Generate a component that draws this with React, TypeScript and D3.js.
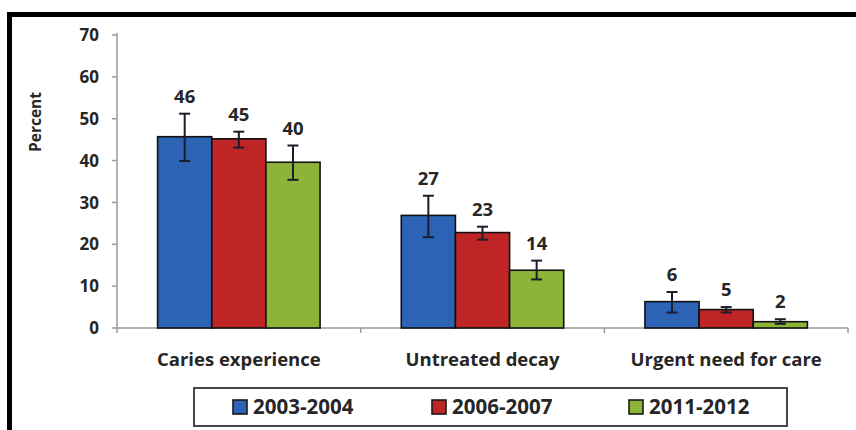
import React from "react";
import * as d3 from "d3";

const categories = ["Caries experience", "Untreated decay", "Urgent need for care"];
const seriesNames = ["2003-2004", "2006-2007", "2011-2012"];
const seriesColors = ["#2c63b5", "#bf2526", "#8bb439"];
const values2003 = [45.7, 26.9, 6.3];
const values2006 = [45.2, 22.8, 4.4];
const values2011 = [39.6, 13.8, 1.5];
const errLow2003 = [39.9, 21.7, 3.7];
const errHigh2003 = [51.2, 31.6, 8.6];
const errLow2006 = [43.1, 21.1, 3.7];
const errHigh2006 = [46.9, 24.2, 5.0];
const errLow2011 = [35.4, 11.6, 1.0];
const errHigh2011 = [43.6, 16.1, 2.1];
const labels2003 = ["46", "27", "6"];
const labels2006 = ["45", "23", "5"];
const labels2011 = ["40", "14", "2"];
const yTicks = [0, 10, 20, 30, 40, 50, 60, 70];

const seriesValues = [values2003, values2006, values2011];
const seriesLow = [errLow2003, errLow2006, errLow2011];
const seriesHigh = [errHigh2003, errHigh2006, errHigh2011];
const seriesLabels = [labels2003, labels2006, labels2011];

const W = 856;
const H = 430;
const FONT = "'Open Sans', sans-serif";
const TEXT = "#262626";

export default function App() {
  const y = d3.scaleLinear().domain([0, 70]).range([328, 35]);
  const x0 = d3.scaleBand<string>().domain(categories).range([117, 848]).padding(0);
  const x1 = d3
    .scaleBand<string>()
    .domain(seriesNames)
    .range([0, x0.bandwidth()])
    .paddingInner(0)
    .paddingOuter(0.75);
  const bw = x1.bandwidth();
  const capW = 11;

  const legendX = 194;
  const legendY = 388;
  const legendW = 593;
  const legendH = 38;
  const legendItemX = [233, 432, 629];

  return (
    <svg
      width={W}
      height={H}
      style={{ position: "absolute", left: 0, top: 0, background: "#fff" }}
      fontFamily={FONT}
    >
      <rect x={0} y={0} width={W} height={H} fill="#fff" />
      {/* frame */}
      <path d={`M9.5,${H} V14.5 H${W}`} fill="none" stroke="#000" strokeWidth={5} />

      {/* y axis */}
      <line x1={117} x2={117} y1={y(70) - 2} y2={333} stroke="#9a9a9a" strokeWidth={1.5} />
      {yTicks.map((t) => (
        <g key={t}>
          <line x1={112} x2={117} y1={y(t)} y2={y(t)} stroke="#9a9a9a" strokeWidth={1.5} />
          <text
            x={99}
            y={y(t)}
            dy="0.36em"
            textAnchor="end"
            fontSize={17}
            fontWeight={700}
            fill={TEXT}
          >
            {t}
          </text>
        </g>
      ))}
      <text
        transform={`translate(41,122) rotate(-90)`}
        textAnchor="middle"
        fontSize={15.5}
        fontWeight={700}
        fill={TEXT}
      >
        Percent
      </text>

      {/* x axis */}
      <line x1={117} x2={848} y1={y(0)} y2={y(0)} stroke="#9a9a9a" strokeWidth={1.5} />
      {categories.map((c) => (
        <line
          key={"t" + c}
          x1={(x0(c) as number) + x0.bandwidth()}
          x2={(x0(c) as number) + x0.bandwidth()}
          y1={y(0)}
          y2={y(0) + 5}
          stroke="#9a9a9a"
          strokeWidth={1.5}
        />
      ))}
      {categories.map((c) => (
        <text
          key={"l" + c}
          x={(x0(c) as number) + x0.bandwidth() / 2}
          y={366}
          textAnchor="middle"
          fontSize={18.5}
          fontWeight={700}
          fill={TEXT}
        >
          {c}
        </text>
      ))}

      {/* bars */}
      {seriesNames.map((s, si) =>
        categories.map((c, ci) => {
          const bx = (x0(c) as number) + (x1(s) as number);
          const v = seriesValues[si][ci];
          return (
            <rect
              key={s + c}
              x={bx}
              y={y(v)}
              width={bw}
              height={y(0) - y(v)}
              fill={seriesColors[si]}
              stroke="#111"
              strokeWidth={1.6}
            />
          );
        })
      )}

      {/* error bars and labels */}
      {seriesNames.map((s, si) =>
        categories.map((c, ci) => {
          const cx = (x0(c) as number) + (x1(s) as number) + bw / 2;
          const lo = y(seriesLow[si][ci]);
          const hi = y(seriesHigh[si][ci]);
          return (
            <g key={"e" + s + c}>
              <line x1={cx} x2={cx} y1={hi} y2={lo} stroke="#1c1c2a" strokeWidth={2} />
              <line x1={cx - capW / 2} x2={cx + capW / 2} y1={hi} y2={hi} stroke="#1c1c2a" strokeWidth={2} />
              <line x1={cx - capW / 2} x2={cx + capW / 2} y1={lo} y2={lo} stroke="#1c1c2a" strokeWidth={2} />
              <text
                x={cx}
                y={hi - 11}
                textAnchor="middle"
                fontSize={18.5}
                fontWeight={700}
                fill={TEXT}
              >
                {seriesLabels[si][ci]}
              </text>
            </g>
          );
        })
      )}

      {/* legend */}
      <rect
        x={legendX}
        y={legendY}
        width={legendW}
        height={legendH}
        fill="#fff"
        stroke="#333"
        strokeWidth={1.8}
      />
      {seriesNames.map((s, si) => (
        <g key={"lg" + s}>
          <rect
            x={legendItemX[si]}
            y={400}
            width={14}
            height={14}
            fill={seriesColors[si]}
            stroke="#1a1a1a"
            strokeWidth={1.6}
          />
          <text
            x={legendItemX[si] + 20}
            y={407}
            dy="0.36em"
            fontSize={20.5}
            fontWeight={700}
            fill={TEXT}
          >
            {s}
          </text>
        </g>
      ))}
    </svg>
  );
}
